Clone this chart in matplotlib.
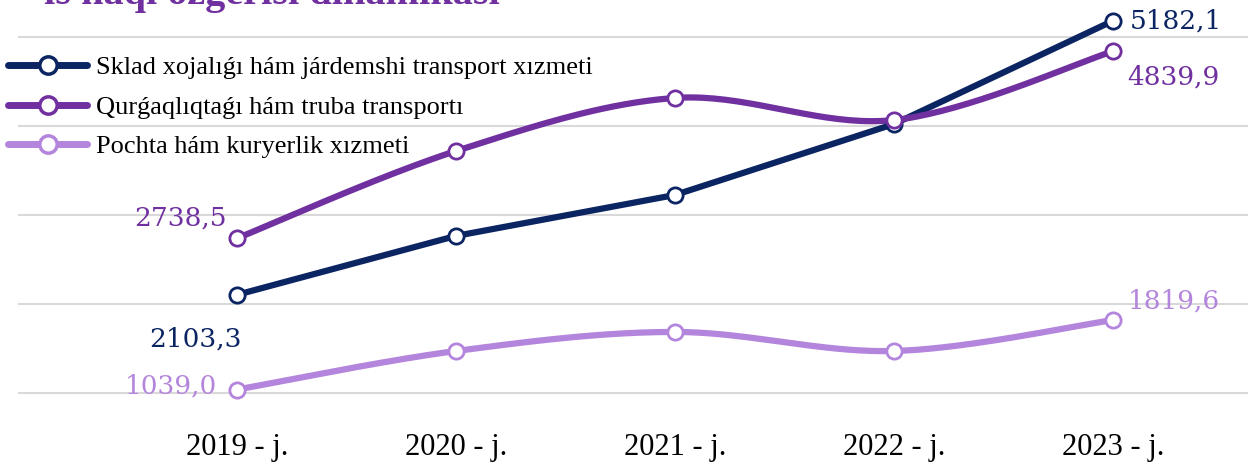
import numpy as np
import matplotlib
matplotlib.use("Agg")
import matplotlib.pyplot as plt
from matplotlib.lines import Line2D

years = ["2019 - j.", "2020 - j.", "2021 - j.", "2022 - j.", "2023 - j."]
series_names = ["Sklad xojalıǵı hám járdemshi transport xızmeti",
                "Qurǵaqlıqtaǵı hám truba transportı",
                "Pochta hám kuryerlik xızmeti"]
sklad = [2103.3, 2765.0, 3225.0, 4022.0, 5182.1]
qurgaq = [2738.5, 3719.0, 4315.0, 4067.0, 4839.9]
pochta = [1039.0, 1472.0, 1686.0, 1472.0, 1819.6]
title = "is haqi ózgerisi dinamikasi"

colors = ["#0B2462", "#7030A0", "#B485DC"]
W, H = 1248, 463
fig = plt.figure(figsize=(W / 100, H / 100), dpi=100)

k = 1000 / 89.0
ax_bottom_px = 420
ymin = 1000 - (ax_bottom_px - 393) * k
ymax = 5000 + 37 * k
ax = fig.add_axes([18 / W, 1 - ax_bottom_px / H, 1 - 18 / W, ax_bottom_px / H])
x = np.arange(len(years))
ax.set_xlim(-(237 - 18) / 219.0, (1248 - 237) / 219.0)
ax.set_ylim(ymin, ymax)


def smooth(xs, ys, n=40):
    xs = np.asarray(xs, float); ys = np.asarray(ys, float)
    P = np.column_stack([xs, ys])
    out = []
    for i in range(len(P) - 1):
        p0 = P[i - 1] if i > 0 else P[i]
        p1 = P[i]; p2 = P[i + 1]
        p3 = P[i + 2] if i + 2 < len(P) else P[i + 1]
        c1 = p1 + (p2 - p0) / 6.0
        c2 = p2 - (p3 - p1) / 6.0
        t = np.linspace(0, 1, n)[:, None]
        seg = ((1 - t) ** 3) * p1 + 3 * ((1 - t) ** 2) * t * c1 + 3 * (1 - t) * t ** 2 * c2 + t ** 3 * p2
        out.append(seg if i == 0 else seg[1:])
    S = np.vstack(out)
    return S[:, 0], S[:, 1]


for gv in [1000, 2000, 3000, 4000, 5000]:
    ax.axhline(gv, color="#D9D9D9", lw=1.5, zorder=0)

data = [sklad, qurgaq, pochta]
smooth_flags = [False, True, True]
for vals, col, sm in zip(data, colors, smooth_flags):
    if sm:
        sx, sy = smooth(x, vals)
    else:
        sx, sy = x, vals
    ax.plot(sx, sy, color=col, lw=4.5, solid_capstyle="round", zorder=2)
    ax.plot(x, vals, "o", ms=11, mfc="white", mec=col, mew=2, zorder=3)

lab_font = dict(family="DejaVu Serif", fontsize=19)
labels = [
    (0, sklad, colors[0], (5, -44), "right"),
    (0, qurgaq, colors[1], (-10, 20), "right"),
    (0, pochta, colors[2], (-20, 4), "right"),
    (4, sklad, colors[0], (17, 0), "left"),
    (4, qurgaq, colors[1], (14, -26), "left"),
    (4, pochta, colors[2], (15, 19), "left"),
]
for i, vals, col, off, ha in labels:
    txt = f"{vals[i]:.1f}".replace(".", ",")
    ax.annotate(txt, (x[i], vals[i]), xytext=off, textcoords="offset pixels",
                ha=ha, va="center", color=col, **lab_font)

ax.set_xticks(x)
ax.set_xticklabels(years, family="Liberation Serif", fontsize=22, color="black")
ax.tick_params(axis="x", length=0, pad=9)
ax.set_yticks([])
for s in ax.spines.values():
    s.set_visible(False)

handles = [Line2D([0], [0], color=c, lw=5, marker="o", ms=12.5, mfc="white", mec=c, mew=2.5,
                  solid_capstyle="round")
           for c in colors]
leg = fig.legend(handles, series_names, loc="upper left",
                 bbox_to_anchor=(8 / W, 1 - 56 / H), frameon=False,
                 prop=dict(family="Liberation Serif", size=19),
                 handlelength=3.0, handletextpad=0.35, labelspacing=0.6,
                 borderaxespad=0, borderpad=0.0)

fig.text(44 / W, 1 - 4 / H, title, color="#7030A0", fontsize=29, fontweight="bold",
         family="Liberation Serif", va="baseline", ha="left")

fig.savefig("out.png", dpi=100)
